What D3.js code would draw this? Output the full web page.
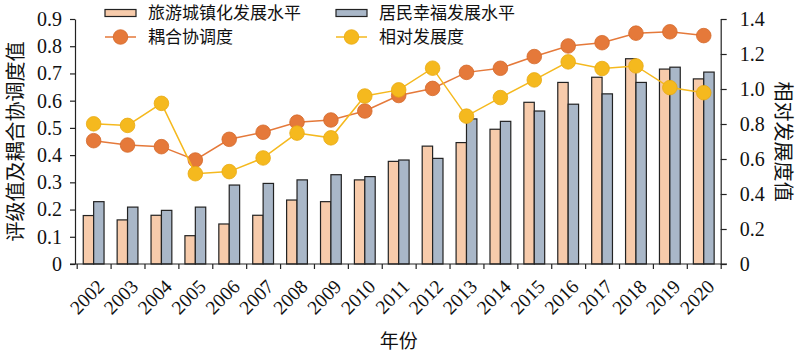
<!DOCTYPE html>
<html lang="zh">
  <head>
    <meta charset="utf-8">
    <style>
      body { margin: 0; background: #fff; }
      svg { display: block; }
      .tick text { font-family: "Liberation Serif", "Times New Roman", serif; font-size: 20px; fill: #111; }
      .cn { font-family: "Noto Sans CJK SC", sans-serif; fill: #111; }
    </style>
  </head>
  <body>
    <script src="https://d3js.org/d3.v7.min.js"></script>
    <script>
      // data
      var years = ["2002", "2003", "2004", "2005", "2006", "2007", "2008", "2009", "2010", "2011",
                   "2012", "2013", "2014", "2015", "2016", "2017", "2018", "2019", "2020"];
      var tourism = [0.178, 0.162, 0.179, 0.104, 0.147, 0.179, 0.235, 0.229, 0.309, 0.377,
                     0.433, 0.446, 0.495, 0.594, 0.667, 0.686, 0.754, 0.716, 0.680];
      var happiness = [0.229, 0.209, 0.197, 0.209, 0.290, 0.296, 0.309, 0.328, 0.321, 0.382,
                       0.388, 0.533, 0.524, 0.562, 0.587, 0.625, 0.667, 0.723, 0.705];
      var coupling = [0.453, 0.437, 0.431, 0.382, 0.458, 0.484, 0.521, 0.529, 0.562, 0.619,
                      0.645, 0.704, 0.719, 0.762, 0.801, 0.813, 0.848, 0.853, 0.839];
      var relative = [0.801, 0.792, 0.918, 0.516, 0.528, 0.606, 0.748, 0.721, 0.960, 0.995,
                      1.119, 0.845, 0.951, 1.052, 1.155, 1.117, 1.132, 1.008, 0.979];
      var leftTicks = [0, 0.1, 0.2, 0.3, 0.4, 0.5, 0.6, 0.7, 0.8, 0.9];
      var rightTicks = [0, 0.2, 0.4, 0.6, 0.8, 1.0, 1.2, 1.4];
      var seriesNames = ["旅游城镇化发展水平", "居民幸福发展水平", "耦合协调度", "相对发展度"];

      var width = 800, height = 354;
      var x0 = 76.7, x1 = 720.7, yTop = 19, yBot = 264;
      var barFill = ["#f7cbab", "#a9b7c8"];
      var lineCol = ["#e5793a", "#f5b91e"];
      var dotStroke = ["#d4692b", "#e9aa12"];

      var svg = d3.select("body").append("svg")
        .attr("width", width)
        .attr("height", height);

      var x = d3.scaleBand().domain(years).range([x0, x1]);
      var xi = d3.scaleLinear().domain([0, years.length]).range([x0, x1]);
      var yL = d3.scaleLinear().domain([0, 0.9]).range([yBot, yTop]);
      var yR = d3.scaleLinear().domain([0, 1.4]).range([yBot, yTop]);
      var bw = 10.4;

      // bars
      var g = svg.append("g");
      years.forEach(function (yr, i) {
        var cx = x(yr) + x.bandwidth() / 2;
        [tourism[i], happiness[i]].forEach(function (v, j) {
          g.append("rect")
            .attr("x", cx - bw + j * bw)
            .attr("y", yL(v))
            .attr("width", bw)
            .attr("height", yBot - yL(v))
            .attr("fill", barFill[j])
            .attr("stroke", "#222")
            .attr("stroke-width", 1.2);
        });
      });

      // lines
      function drawLine(vals, scale, k) {
        var pts = vals.map(function (v, i) { return [x(years[i]) + x.bandwidth() / 2, scale(v)]; });
        svg.append("path")
          .attr("d", d3.line()(pts))
          .attr("fill", "none")
          .attr("stroke", lineCol[k])
          .attr("stroke-width", 1.5);
        svg.selectAll(null).data(pts).join("circle")
          .attr("cx", function (d) { return d[0]; })
          .attr("cy", function (d) { return d[1]; })
          .attr("r", 7.3)
          .attr("fill", lineCol[k])
          .attr("stroke", dotStroke[k])
          .attr("stroke-width", 0.8);
      }
      drawLine(coupling, yL, 0);
      drawLine(relative, yR, 1);

      // axes
      var fmt = function (d) { return d === 0 ? "0" : d3.format(".1f")(d); };
      svg.append("g").attr("transform", "translate(75,0)")
        .call(d3.axisLeft(yL).tickValues(leftTicks).tickSize(5).tickSizeOuter(0).tickPadding(8).tickFormat(fmt));
      svg.append("g").attr("transform", "translate(" + x1 + ",0)")
        .call(d3.axisRight(yR).tickValues(rightTicks).tickSize(6).tickSizeOuter(0).tickPadding(13).tickFormat(fmt));
      var axB = svg.append("g").attr("transform", "translate(0," + yBot + ")")
        .call(d3.axisBottom(xi).tickValues(d3.range(years.length + 1)).tickSize(5).tickFormat(""));
      axB.select(".domain").remove();
      svg.append("line").attr("x1", 70).attr("x2", 727).attr("y1", yBot).attr("y2", yBot)
        .attr("stroke", "#222").attr("stroke-width", 1.2);
      svg.selectAll(".domain, .tick line").attr("stroke", "#222").attr("stroke-width", 1.2);

      // rotated year labels
      svg.append("g").selectAll("text").data(years).join("text")
        .attr("transform", function (d) {
          return "translate(" + (x(d) + x.bandwidth() / 2 + 7) + "," + (yBot + 19) + ") rotate(-45)";
        })
        .attr("text-anchor", "end")
        .attr("dy", "0.35em")
        .style("font-family", "'Liberation Serif', serif")
        .style("font-size", "19.5px")
        .attr("fill", "#111")
        .text(function (d) { return d; });

      // titles
      svg.append("text").attr("class", "cn")
        .attr("transform", "translate(16," + ((yTop + yBot) / 2) + ") rotate(-90)")
        .attr("text-anchor", "middle")
        .attr("dy", "0.35em")
        .style("font-size", "20px")
        .text("评级值及耦合协调度值");
      svg.append("text").attr("class", "cn")
        .attr("transform", "translate(783," + ((yTop + yBot) / 2) + ") rotate(90)")
        .attr("text-anchor", "middle")
        .attr("dy", "0.35em")
        .style("font-size", "20px")
        .text("相对发展度值");
      svg.append("text").attr("class", "cn")
        .attr("x", (x0 + x1) / 2).attr("y", 348)
        .attr("text-anchor", "middle")
        .style("font-size", "19px")
        .text("年份");

      // legend
      var lg = svg.append("g");
      var lx = [105, 336], ly = [13, 37];
      seriesNames.forEach(function (name, i) {
        var col = i % 2, row = Math.floor(i / 2);
        var gx = lx[col], gy = ly[row];
        if (row === 0) {
          lg.append("rect").attr("x", gx).attr("y", gy - 3.5).attr("width", 31).attr("height", 7)
            .attr("fill", barFill[col]).attr("stroke", "#222").attr("stroke-width", 1.2);
        } else {
          lg.append("line").attr("x1", gx).attr("x2", gx + 31).attr("y1", gy).attr("y2", gy)
            .attr("stroke", lineCol[col]).attr("stroke-width", 1.5);
          lg.append("circle").attr("cx", gx + 15.5).attr("cy", gy).attr("r", 7.3)
            .attr("fill", lineCol[col]).attr("stroke", dotStroke[col]).attr("stroke-width", 0.8);
        }
        lg.append("text").attr("class", "cn")
          .attr("x", gx + 43).attr("y", gy).attr("dy", "0.36em")
          .style("font-size", "17px")
          .text(name);
      });
    </script>
  </body>
</html>
